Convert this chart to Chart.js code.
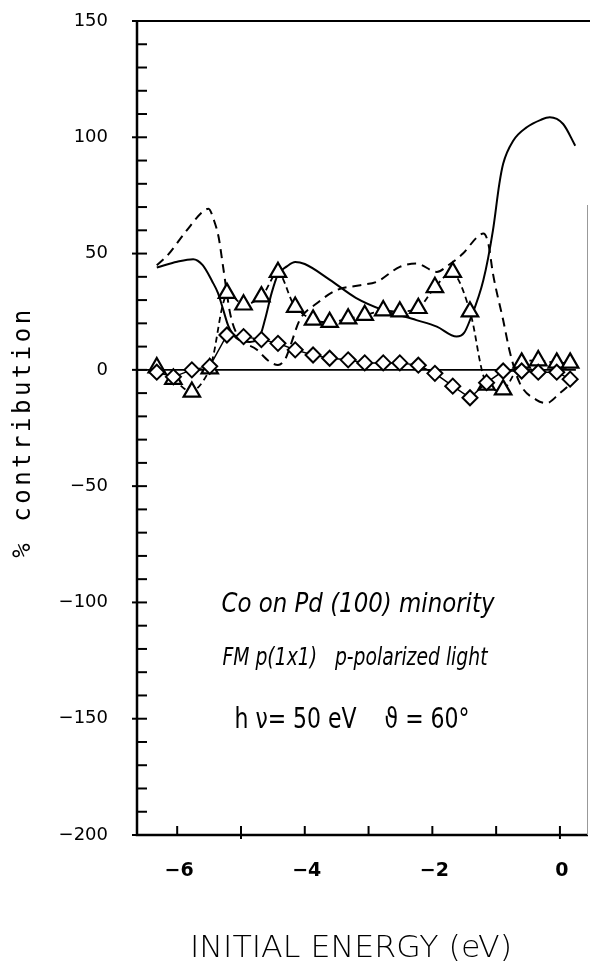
<!DOCTYPE html>
<html lang="en">
<head>
  <meta charset="UTF-8" />
  <title>Co on Pd (100) minority</title>
  <script src="https://cdn.jsdelivr.net/npm/chart.js"></script>
  <style>
    body { margin: 0; background: #fff; overflow: hidden; }
    #chart { display: block; }
  </style>
</head>
<body>
  <canvas id="chart" width="590" height="966"></canvas>
  <script>
    // solid curve
    const solidX = [-6.32, -6.0, -5.75, -5.6, -5.45, -5.36, -5.28, -5.2, -5.07, -4.86, -4.72, -4.62, -4.52, -4.42, -4.28, -4.15, -4.0, -3.6, -3.2, -2.77, -2.25, -1.93, -1.62, -1.5, -1.41, -1.2, -1.05, -0.95, -0.89, -0.73, -0.52, -0.3, -0.16, 0.05, 0.24];
    const solidY = [44, 46.5, 47.6, 45, 38, 33, 26, 19, 13.6, 12, 13.5, 22, 33, 41, 44.5, 46.4, 45.5, 38.6, 31, 25.7, 21.4, 18.6, 14.3, 16, 21.4, 38.6, 60, 80, 88.6, 98.6, 104.3, 107.5, 108.6, 105.7, 96.4];

    // dashed curve
    const dashX = [-6.32, -6.16, -5.85, -5.6, -5.51, -5.42, -5.35, -5.28, -5.17, -5.07, -4.75, -4.55, -4.42, -4.3, -4.23, -4.08, -3.81, -3.5, -3.13, -2.87, -2.51, -2.25, -1.93, -1.75, -1.52, -1.3, -1.2, -1.12, -1.05, -0.89, -0.78, -0.63, -0.37, -0.21, 0.0, 0.21];
    const dashY = [45, 49, 60, 68, 69.3, 64, 57, 44.3, 24.3, 15.7, 8.6, 3.5, 2.1, 5, 10, 21.4, 28.6, 34.3, 36.4, 37.9, 44.3, 45.7, 42.1, 45, 50, 57, 58.6, 54, 41.4, 21.4, 7.1, -5.7, -12.9, -14.3, -10, -5];

    // markers (same energies for both series)
    const markX = [-6.32, -6.06, -5.77, -5.49, -5.22, -4.96, -4.68, -4.42, -4.15, -3.87, -3.61, -3.32, -3.06, -2.77, -2.51, -2.22, -1.96, -1.68, -1.41, -1.15, -0.89, -0.60, -0.34, -0.05, 0.16];
    const triY = [1, -4, -9.5, 0.5, 33, 28, 31.5, 42, 27, 21.5, 20.5, 22, 23.5, 25.5, 25, 26.5, 35.5, 42, 25, -6.5, -8.5, 3, 4, 3, 3];
    const diaY = [-1, -3, 0, 1.5, 15, 14.3, 13, 11.4, 8.6, 6.4, 5, 4.3, 3, 3, 3, 2, -1.5, -7, -12, -5.5, -0.5, -0.5, -1, -1, -4];

    const xTicks = [-6, -4, -2, 0];
    const yTicks = [-200, -150, -100, -50, 0, 50, 100, 150];

    const pts = (xs, ys) => xs.map((x, i) => ({ x: x, y: ys[i] }));
    const minus = v => (v < 0 ? "\u2212" + Math.abs(v) : String(v));

    // draw text squeezed/stretched to a given width
    function fitText(ctx, text, cx, cy, width, font) {
      ctx.save();
      ctx.font = font;
      const w = ctx.measureText(text).width;
      ctx.translate(cx, cy);
      ctx.scale(width / w, 1);
      ctx.textAlign = "center";
      ctx.textBaseline = "alphabetic";
      ctx.fillText(text, 0, 0);
      ctx.restore();
    }

    const frame = {
      id: "frame",
      beforeDatasetsDraw(chart) {
        const { ctx, chartArea: a, scales: { x, y } } = chart;
        const y0 = y.getPixelForValue(0);
        ctx.save();
        ctx.strokeStyle = "#000";
        ctx.lineWidth = 1.6;
        ctx.beginPath();
        ctx.moveTo(a.left, y0);
        ctx.lineTo(x.getPixelForValue(0.25), y0);
        ctx.stroke();
        ctx.restore();
      },
      afterDraw(chart) {
        const { ctx, chartArea: a, scales: { x, y } } = chart;
        ctx.save();
        ctx.strokeStyle = "#000";
        ctx.lineWidth = 2.5;
        ctx.beginPath();
        ctx.moveTo(a.left, a.top);
        ctx.lineTo(a.left, a.bottom);
        ctx.lineTo(a.right, a.bottom);
        ctx.stroke();
        ctx.lineWidth = 2;
        ctx.beginPath();
        ctx.moveTo(a.left, a.top);
        ctx.lineTo(590, a.top);
        ctx.stroke();
        ctx.strokeStyle = "#999";
        ctx.lineWidth = 1;
        ctx.beginPath();
        ctx.moveTo(a.right - 0.5, 205);
        ctx.lineTo(a.right - 0.5, a.bottom);
        ctx.stroke();

        // y ticks every 10
        ctx.strokeStyle = "#000";
        ctx.lineWidth = 2;
        for (let v = -200; v <= 150; v += 10) {
          const py = y.getPixelForValue(v);
          const major = v % 50 === 0;
          ctx.beginPath();
          ctx.moveTo(a.left - (major ? 5 : 0), py);
          ctx.lineTo(a.left + 10, py);
          ctx.stroke();
        }
        // x ticks every 1
        for (let v = -6; v <= 0; v++) {
          const px = x.getPixelForValue(v);
          ctx.beginPath();
          ctx.moveTo(px, a.bottom + (v === 0 || v === -5 ? 4 : 0));
          ctx.lineTo(px, a.bottom - 9);
          ctx.stroke();
        }

        // tick labels
        ctx.fillStyle = "#000";
        ctx.font = "18px 'DejaVu Sans'";
        ctx.textAlign = "right";
        ctx.textBaseline = "middle";
        yTicks.forEach(v => ctx.fillText(minus(v), a.left - 29, y.getPixelForValue(v)));
        ctx.font = "bold 19px 'DejaVu Sans'";
        ctx.textAlign = "center";
        xTicks.forEach(v => ctx.fillText(minus(v), x.getPixelForValue(v) + 2, a.bottom + 36));

        // titles
        ctx.save();
        ctx.translate(24, 432);
        ctx.rotate(-Math.PI / 2);
        ctx.font = "24px 'DejaVu Sans Mono'";
        ctx.letterSpacing = "3.5px";
        ctx.textAlign = "center";
        ctx.textBaseline = "middle";
        ctx.fillText("% contribution", 0, 0);
        ctx.restore();

        fitText(ctx, "INITIAL ENERGY (eV)", 351, 957, 322, "200 31px 'DejaVu Sans'");

        // annotation
        const narrow = "'Liberation Sans Narrow', 'DejaVu Sans Condensed', 'Noto Sans', sans-serif";
        fitText(ctx, "Co on Pd (100) minority", 358, 612, 273, "italic 26px " + narrow);
        fitText(ctx, "FM p(1x1)   p-polarized light", 355, 665, 265, "italic 25px " + narrow);
        fitText(ctx, "h \u03BD= 50 eV    \u03D1 = 60\u00B0", 352, 728, 235, "29px " + narrow);
        ctx.restore();
      }
    };

    new Chart(document.getElementById("chart"), {
      type: "scatter",
      data: {
        datasets: [
          {
            data: pts(markX, diaY), showLine: true, borderColor: "#000", borderWidth: 1.5,
            pointStyle: "rectRot", pointRadius: 7.5, pointBorderWidth: 2,
            pointBackgroundColor: "#fff", pointBorderColor: "#000"
          },
          {
            data: pts(markX, triY), showLine: true, borderColor: "#000", borderWidth: 1.8,
            borderDash: [6, 4], tension: 0.3,
            pointStyle: "triangle", pointRadius: 9.5, pointBorderWidth: 2.2,
            pointBackgroundColor: "#fff", pointBorderColor: "#000"
          },
          {
            data: pts(solidX, solidY), showLine: true, borderColor: "#000", borderWidth: 2,
            pointRadius: 0, cubicInterpolationMode: "monotone"
          },
          {
            data: pts(dashX, dashY), showLine: true, borderColor: "#000", borderWidth: 2,
            borderDash: [9, 6], pointRadius: 0, cubicInterpolationMode: "monotone"
          }
        ]
      },
      options: {
        responsive: false,
        devicePixelRatio: 1,
        animation: false,
        layout: { autoPadding: false, padding: { top: 21, right: 2, left: 0, bottom: 0 } },
        plugins: { legend: { display: false }, tooltip: { enabled: false } },
        scales: {
          x: {
            type: "linear", min: -6.63, max: 0.44,
            grid: { display: false, drawTicks: false }, border: { display: false },
            afterBuildTicks: s => { s.ticks = xTicks.map(v => ({ value: v })); },
            afterFit: s => { s.height = 131; },
            ticks: { display: false }
          },
          y: {
            type: "linear", min: -200, max: 150,
            grid: { display: false, drawTicks: false }, border: { display: false },
            afterBuildTicks: s => { s.ticks = yTicks.map(v => ({ value: v })); },
            afterFit: s => { s.width = 137; },
            ticks: { display: false }
          }
        }
      },
      plugins: [frame]
    });
  </script>
</body>
</html>
